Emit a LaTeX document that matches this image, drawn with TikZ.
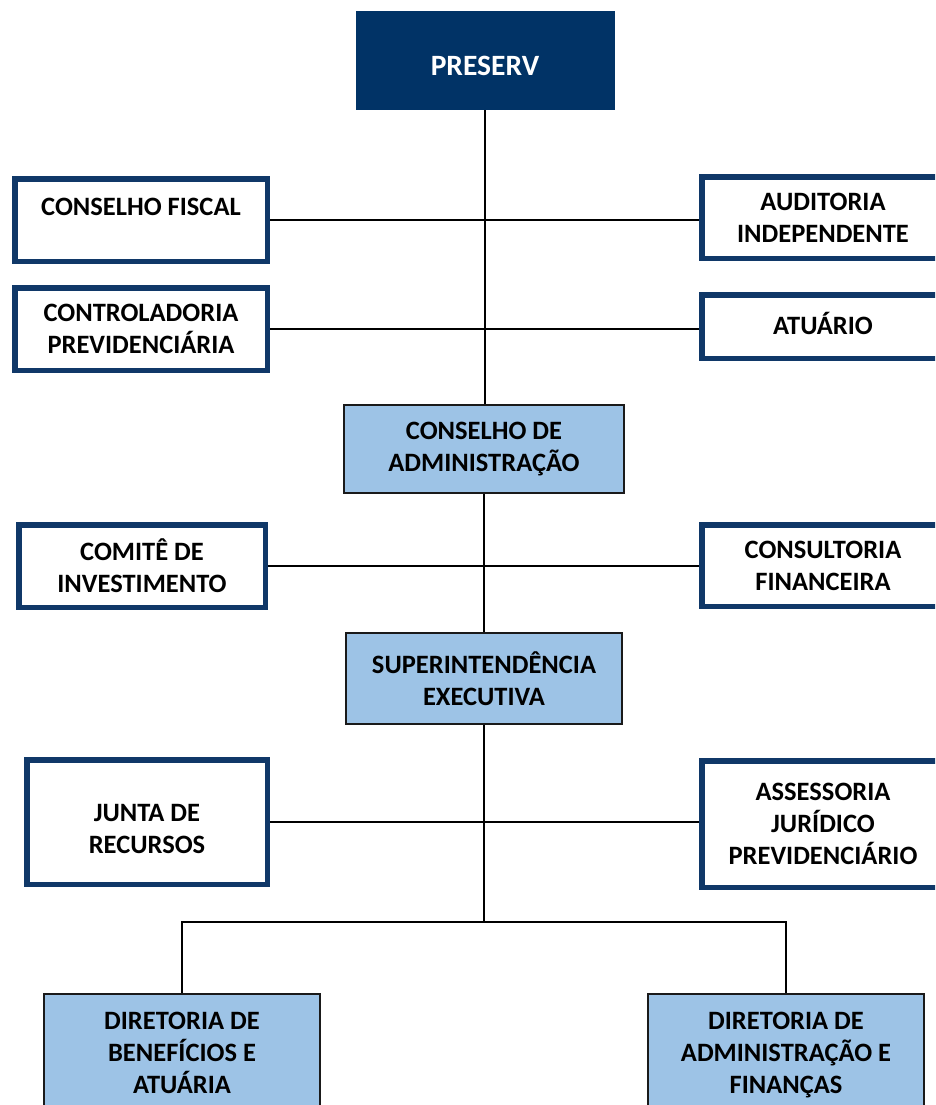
\documentclass[tikz,border=0pt]{standalone}
\usepackage{fontspec}
\setmainfont{Carlito}
\definecolor{navy}{HTML}{103868}
\definecolor{topfill}{HTML}{013366}
\definecolor{lightblue}{HTML}{9DC3E6}
\definecolor{bdark}{HTML}{1A1A1A}
\begin{document}
\begin{tikzpicture}[x=1pt,y=-1pt,
  txt/.style={align=center, font=\bfseries\fontsize{26.5}{32}\selectfont, inner sep=0pt},
  wbox/.style={txt, draw=navy, line width=5.5pt, fill=white, text=black},
  bbox/.style={txt, draw=bdark, line width=1.8pt, fill=lightblue, text=black},
  topbox/.style={txt, fill=topfill, text=white, font=\bfseries\fontsize{29.5}{34}\selectfont},
  link/.style={line width=1.8pt, black}]
\useasboundingbox (0,0) rectangle (935,1105);
\clip (0,0) rectangle (935,1105);

% top
\node[topbox, minimum width=259pt, minimum height=99pt] (preserv) at (485,60.5) {\raisebox{-15pt}[0pt][0pt]{PRESERV}};

% first level side boxes
\node[wbox, minimum width=252.5pt, minimum height=82.5pt] (cf) at (141,220) {CONSELHO FISCAL\\[-6pt]\mbox{}};
\node[wbox, minimum width=242.5pt, minimum height=81.5pt] (aud) at (823,217.5) {AUDITORIA\\INDEPENDENTE};
\node[wbox, minimum width=252.5pt, minimum height=82.5pt] (ctrl) at (141,329) {CONTROLADORIA\\PREVIDENCIÁRIA};
\node[wbox, minimum width=242.5pt, minimum height=63.5pt] (atu) at (823,326.5) {\raisebox{3pt}[\height][\depth]{ATUÁRIO}};

% conselho de administracao
\node[bbox, minimum width=280pt, minimum height=88pt] (ca) at (484,449) {CONSELHO DE\\ADMINISTRAÇÃO};

\node[wbox, minimum width=246.5pt, minimum height=82.5pt] (com) at (142,566) {COMITÊ DE\\INVESTIMENTO};
\node[wbox, minimum width=242.5pt, minimum height=81.5pt] (cons) at (823,565.5) {CONSULTORIA\\FINANCEIRA};

% superintendencia
\node[bbox, minimum width=276pt, minimum height=91pt] (sup) at (484,678.5) {SUPERINTENDÊNCIA\\EXECUTIVA};

\node[wbox, minimum width=240.5pt, minimum height=124.5pt] (junta) at (147,822) {\mbox{}\\JUNTA DE\\RECURSOS};
\node[wbox, minimum width=242.5pt, minimum height=126.5pt] (asse) at (823,824) {ASSESSORIA\\JURÍDICO\\PREVIDENCIÁRIO};

% diretorias
\node[bbox, minimum width=276pt, minimum height=118pt] (dben) at (182,1053) {DIRETORIA DE\\BENEFÍCIOS E\\ATUÁRIA};
\node[bbox, minimum width=276pt, minimum height=118pt] (dadm) at (786,1053) {\raisebox{-2pt}[\height][\depth]{DIRETORIA DE}\\\raisebox{-2pt}[\height][\depth]{ADMINISTRAÇÃO E}\\\raisebox{-2pt}[\height][\depth]{FINANÇAS}};

\coordinate (j) at (484,922);

% connectors
\draw[link] (preserv.south) -- (preserv.south |- ca.north);
\draw[link] (cf.east) -- (cf.east -| aud.west);
\draw[link] (ctrl.east) -- (ctrl.east -| atu.west);
\draw[link] (ca.south) -- (sup.north);
\draw[link] (com.east) -- (com.east -| cons.west);
\draw[link] (sup.south) -- (j);
\draw[link] (junta.east) -- (junta.east -| asse.west);
\draw[link] (j) -| (dben.north);
\draw[link] (j) -| (dadm.north);
\end{tikzpicture}
\end{document}
